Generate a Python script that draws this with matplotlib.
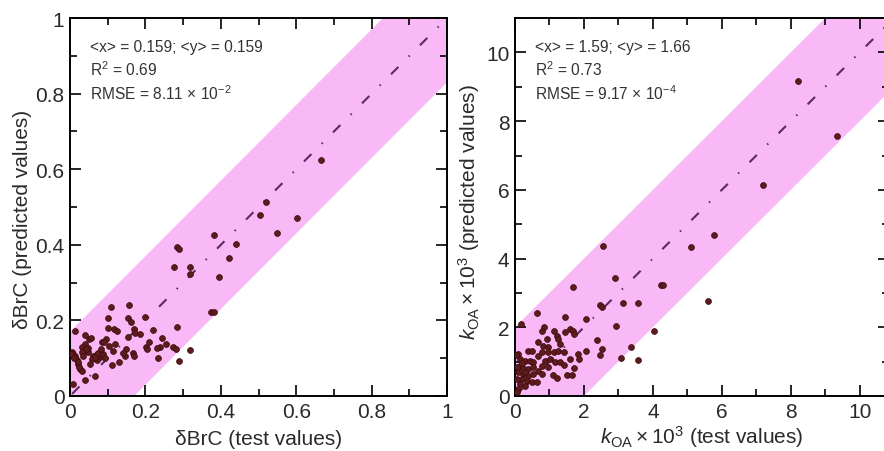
import numpy as np
import matplotlib
matplotlib.use('Agg')
import matplotlib.pyplot as plt
from matplotlib.ticker import MultipleLocator, FuncFormatter

plt.rcParams['font.family'] = ['Liberation Sans', 'DejaVu Sans']
plt.rcParams['mathtext.fontset'] = 'custom'
plt.rcParams['mathtext.rm'] = 'Liberation Sans'
plt.rcParams['mathtext.it'] = 'Liberation Sans:italic'

# ---- left panel: dBrC (test vs predicted) ----
brc_test = [0.666, 0.520, 0.504, 0.602, 0.549, 0.381, 0.441, 0.284, 0.288, 0.423,
            0.276, 0.317, 0.319, 0.395, 0.374, 0.383, 0.285, 0.317, 0.290, 0.274,
            0.281, 0.234, 0.239, 0.230, 0.243, 0.255, 0.221, 0.199, 0.202, 0.205,
            0.210, 0.157, 0.155, 0.162, 0.170, 0.172, 0.186, 0.155, 0.166, 0.170,
            0.149, 0.146, 0.140, 0.131, 0.109, 0.102, 0.102, 0.117, 0.125, 0.104,
            0.118, 0.115, 0.111, 0.096, 0.084, 0.080, 0.071, 0.062, 0.071, 0.058,
            0.066, 0.075, 0.088, 0.092, 0.082, 0.090, 0.049, 0.051, 0.040, 0.055,
            0.040, 0.031, 0.040, 0.049, 0.042, 0.031, 0.035, 0.013, 0.004, 0.009,
            0.013, 0.018, 0.022, 0.027, 0.031, 0.024, 0.065, 0.040, 0.007, 0.053,
            0.002, 0.010, 0.020]
brc_pred = [0.624, 0.514, 0.480, 0.472, 0.431, 0.425, 0.401, 0.393, 0.388, 0.365,
            0.341, 0.341, 0.324, 0.315, 0.222, 0.222, 0.182, 0.123, 0.092, 0.129,
            0.125, 0.101, 0.129, 0.126, 0.153, 0.138, 0.175, 0.209, 0.129, 0.125,
            0.142, 0.241, 0.206, 0.195, 0.178, 0.167, 0.165, 0.156, 0.114, 0.105,
            0.125, 0.107, 0.114, 0.091, 0.236, 0.206, 0.180, 0.176, 0.173, 0.133,
            0.138, 0.120, 0.082, 0.151, 0.144, 0.103, 0.094, 0.107, 0.111, 0.098,
            0.103, 0.115, 0.110, 0.100, 0.125, 0.142, 0.116, 0.151, 0.162, 0.153,
            0.138, 0.129, 0.123, 0.126, 0.125, 0.116, 0.107, 0.171, 0.116, 0.111,
            0.107, 0.094, 0.085, 0.072, 0.067, 0.076, 0.054, 0.041, 0.032, 0.085,
            0.110, 0.100, 0.090]

# ---- right panel: kOA x 10^3 (test vs predicted) ----
koa_test = [8.21, 9.35, 7.20, 5.78, 5.12, 2.54, 5.60, 2.90, 4.23, 4.30,
            1.67, 3.12, 3.56, 2.47, 2.51, 2.93, 4.04, 0.63, 1.45, 2.06,
            0.16, 3.36, 3.07, 3.57, 2.37, 2.51, 2.48, 2.06, 0.85, 0.79,
            1.14, 1.45, 1.59, 1.69, 1.72, 1.21, 1.26, 0.92, 0.68, 1.30,
            0.82, 0.97, 0.39, 0.48, 0.77, 0.97, 1.14, 1.26, 1.43, 1.82,
            1.59, 1.86, 0.68, 0.87, 1.01, 1.16, 1.30, 1.71, 1.43, 0.97,
            0.77, 0.68, 0.79, 1.11, 1.21, 1.50, 1.64, 0.10, 0.14, 0.29,
            0.43, 0.53, 0.14, 0.24, 0.39, 0.53, 0.10, 0.24, 0.39, 0.53,
            0.19, 0.34, 0.48, 0.14, 0.29, 0.10, 0.05, 0.63, 0.05, 0.07,
            0.03, 0.20, 0.30]
koa_pred = [9.16, 7.57, 6.13, 4.69, 4.33, 4.36, 2.76, 3.43, 3.22, 3.22,
            3.17, 2.71, 2.71, 2.66, 2.60, 2.05, 1.89, 2.41, 2.31, 2.24,
            2.10, 1.42, 1.10, 1.05, 1.64, 1.38, 1.18, 1.32, 2.00, 1.90,
            1.90, 1.87, 1.95, 1.90, 1.81, 1.76, 1.66, 1.66, 1.58, 1.52,
            1.45, 1.42, 1.32, 1.32, 1.29, 1.29, 1.29, 1.32, 1.29, 1.22,
            1.08, 1.08, 1.17, 1.03, 1.08, 0.98, 1.00, 0.81, 0.90, 0.84,
            0.88, 0.74, 0.64, 0.61, 0.51, 0.61, 0.61, 1.22, 1.08, 1.03,
            1.03, 0.98, 0.88, 0.81, 0.79, 0.84, 0.69, 0.64, 0.59, 0.64,
            0.50, 0.45, 0.40, 0.35, 0.30, 0.20, 0.11, 0.40, 0.84, 0.50,
            1.20, 0.95, 0.70]

brc_stats = ['<x> = 0.159; <y> = 0.159', r'R$^2$ = 0.69', r'RMSE = 8.11 $\times$ 10$^{-2}$']
koa_stats = ['<x> = 1.59; <y> = 1.66', r'R$^2$ = 0.73', r'RMSE = 9.17 $\times$ 10$^{-4}$']

band_col = '#f8b9f6'
pt_col = '#5e1a1c'
line_col = '#5a2a60'
txt_col = '#2a2a2a'


def panel(ax, xs, ys, xmax, ymax, band, major, minor, stats, xlab, ylab, fmt,
          ylab_xy, xpad):
    line = np.array([-ymax, 2 * ymax])
    ax.fill_between(line, line - band, line + band, color=band_col, lw=0, zorder=1)
    ax.plot(line, line, color=line_col, lw=1.5, dashes=(5, 7, 0.7, 7), zorder=2)
    ax.scatter(xs, ys, s=18, color=pt_col, edgecolors='#3a0c0c', linewidths=0.5, zorder=3)
    ax.set_xlim(0, xmax)
    ax.set_ylim(0, ymax)
    for a in (ax.xaxis, ax.yaxis):
        a.set_major_locator(MultipleLocator(major))
        a.set_minor_locator(MultipleLocator(minor))
        a.set_major_formatter(FuncFormatter(fmt))
    ax.tick_params(which='both', direction='in', top=True, right=True, width=1.2,
                   labelsize=15, pad=4, labelcolor=txt_col)
    ax.tick_params(which='major', length=8)
    ax.tick_params(which='minor', length=5)
    for s in ax.spines.values():
        s.set_linewidth(1.4)
    ax.set_xlabel(xlab, fontsize=15, labelpad=xpad, color=txt_col)
    ax.set_ylabel(ylab, fontsize=15, color=txt_col)
    ax.yaxis.set_label_coords(*ylab_xy)
    for i, t in enumerate(stats):
        ax.text(0.053, 0.926 - i * 0.061, t, transform=ax.transAxes, fontsize=11.2,
                color='#333333', va='center')


fig = plt.figure(figsize=(8.84, 4.52), dpi=100)
ax1 = fig.add_axes([0.0792, 0.1217, 0.4265, 0.836])
ax2 = fig.add_axes([0.5826, 0.1217, 0.423, 0.836])

panel(ax1, brc_test, brc_pred, 1.0, 1.0, 0.17, 0.2, 0.1, brc_stats,
      'δBrC (test values)', 'δBrC (predicted values)',
      lambda v, p: '%g' % round(v, 2), (-0.102, 0.47), 6)
panel(ax2, koa_test, koa_pred, 10.85, 11.0, 2.0, 2, 1, koa_stats,
      r'$k_{\mathrm{OA}}\times$10$^3$ (test values)',
      r'$k_{\mathrm{OA}}\times$10$^3$ (predicted values)',
      lambda v, p: '%d' % round(v), (-0.087, 0.49), 2)

fig.savefig('out.png', dpi=100)
